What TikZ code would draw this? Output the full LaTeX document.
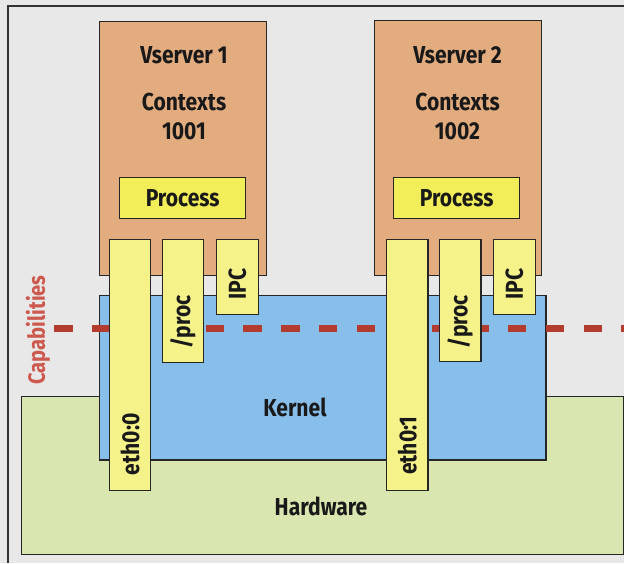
\documentclass[tikz,border=0pt]{standalone}
\usepackage{fontspec}
\setmainfont[FakeStretch=0.86]{Fira Sans}
\begin{document}
\begin{tikzpicture}[x=1pt,y=-1pt,
  boxline/.style={draw=black!85,line width=1.4pt},
  block/.style={boxline,rectangle,anchor=north west,inner sep=0pt},
  txt/.style={font=\fontsize{24.5}{26}\selectfont\bfseries,text=black!90,inner sep=0pt},
  tabtxt/.style={txt,rotate=90,anchor=west},
  vsfill/.style={fill={rgb,255:red,226;green,172;blue,127}},
  procfill/.style={fill={rgb,255:red,242;green,238;blue,90}},
  tabfill/.style={fill={rgb,255:red,245;green,242;blue,138}},
  kernfill/.style={fill={rgb,255:red,136;green,190;blue,234}},
  hwfill/.style={fill={rgb,255:red,217;green,230;blue,176}},
  capline/.style={draw={rgb,255:red,180;green,60;blue,46},line width=7pt,dash pattern=on 18.5pt off 19.3pt},
]
% canvas and frame
\useasboundingbox (0,0) rectangle (624,563);
\fill[black!9] (0,0) rectangle (624,563);
\draw[line width=1.4pt,black!80] (8,563) -- (8,6) -- (624,6);

% hardware and kernel layers
\node[block,hwfill,minimum width=602.6pt,minimum height=157.7pt] (hw) at (20.7,396) {};
\node[block,kernfill,minimum width=446.2pt,minimum height=164.6pt] (kern) at (99,294.7) {};

% capabilities boundary
\coordinate (capL) at (54.3,328);
\coordinate (capR) at (624,328);
\draw[capline] (capL) -- (capR);

% virtual servers
\node[block,vsfill,minimum width=167pt,minimum height=254pt] (vs1) at (98.5,21) {};
\node[block,vsfill,minimum width=167pt,minimum height=255pt] (vs2) at (374,20) {};
\node[block,procfill,minimum width=126pt,minimum height=41pt] (p1) at (119,177) {};
\node[block,procfill,minimum width=126pt,minimum height=41pt] (p2) at (393,177) {};

% interface tabs
\node[block,tabfill,minimum width=41.5pt,minimum height=251pt] (eth1) at (108.5,239) {};
\node[block,tabfill,minimum width=41.5pt,minimum height=122.5pt] (proc1) at (161.5,239) {};
\node[block,tabfill,minimum width=41.5pt,minimum height=75pt] (ipc1) at (216,239) {};
\node[block,tabfill,minimum width=41.6pt,minimum height=250.7pt] (eth2) at (385.7,239) {};
\node[block,tabfill,minimum width=41.6pt,minimum height=122pt] (proc2) at (438.7,239) {};
\node[block,tabfill,minimum width=42pt,minimum height=75pt] (ipc2) at (492.7,239) {};

% labels
\node[txt] at (184,55) {Vserver 1};
\node[txt] at (184,102) {Contexts};
\node[txt] at (184,131) {1001};
\node[txt] at (457.5,55) {Vserver 2};
\node[txt] at (457.5,102) {Contexts};
\node[txt] at (457.5,131) {1002};
\node[txt] at (p1.center) {Process};
\node[txt] at (p2.center) {Process};
\node[txt] at (295,407) {Kernel};
\node[txt] at (321,506) {Hardware};

\node[tabtxt] at ([yshift=16pt]eth1.south) {eth0:0};
\node[tabtxt] at ([yshift=14pt]proc1.south) {/proc};
\node[tabtxt] at ([yshift=16pt]ipc1.south) {IPC};
\node[tabtxt] at ([yshift=16pt]eth2.south) {eth0:1};
\node[tabtxt] at ([yshift=14pt]proc2.south) {/proc};
\node[tabtxt] at ([yshift=16pt]ipc2.south) {IPC};

\node[txt,rotate=90,font=\fontsize{23.5}{25}\selectfont\bfseries,text={rgb,255:red,205;green,88;blue,78}] (cap) at (38,330) {Capabilities};
\end{tikzpicture}
\end{document}
